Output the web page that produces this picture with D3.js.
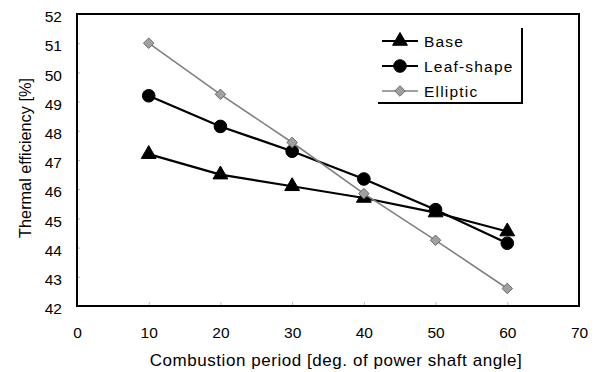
<!DOCTYPE html>
<html>
<head>
<meta charset="utf-8">
<script src="https://cdn.jsdelivr.net/npm/d3@7"></script>
<style>
  html, body { margin: 0; padding: 0; background: #fff; }
  svg { display: block; font-family: "Liberation Sans", Arial, sans-serif; }
</style>
</head>
<body>
<svg id="chart" width="597" height="372"></svg>
<script>
// Combustion period (deg. of power shaft angle)
const periods = [10, 20, 30, 40, 50, 60];
// Thermal efficiency [%] for each rotor recess shape
const baseEff = [47.2, 46.5, 46.1, 45.7, 45.2, 44.55];
const leafEff = [49.2, 48.15, 47.3, 46.35, 45.3, 44.15];
const ellipticEff = [51.0, 49.25, 47.6, 45.85, 44.25, 42.6];
const xTicks = [0, 10, 20, 30, 40, 50, 60, 70];
const yTicks = [42, 43, 44, 45, 46, 47, 48, 49, 50, 51, 52];
const seriesNames = ["Base", "Leaf-shape", "Elliptic"];

const svg = d3.select("#chart");
const m = { left: 77, right: 579, top: 14, bottom: 306 };

const x = d3.scaleLinear().domain([0, 70]).range([m.left, m.right]);
const y = d3.scaleLinear().domain([42, 52]).range([m.bottom, m.top]);

// faint tick marks inside the frame
const xAxis = d3.axisBottom(x).tickValues(xTicks).tickSize(-4).tickFormat(d => d).tickPadding(21);
const yAxis = d3.axisLeft(y).tickValues(yTicks).tickSize(-3).tickFormat(d => d).tickPadding(15);

const gx = svg.append("g").attr("transform", `translate(0,${m.bottom})`).call(xAxis);
const gy = svg.append("g").attr("transform", `translate(${m.left},0)`).call(yAxis);
[gx, gy].forEach(g => {
  g.select(".domain").remove();
  g.selectAll(".tick line").attr("stroke", "#bbb").attr("stroke-width", 1);
  g.selectAll(".tick text").attr("fill", "#000").style("font-size", "15.5px");
});
gy.selectAll(".tick text").attr("dy", "0.5em");

// plot frame
svg.append("rect")
  .attr("x", m.left).attr("y", m.top)
  .attr("width", m.right - m.left).attr("height", m.bottom - m.top)
  .attr("fill", "none").attr("stroke", "#000").attr("stroke-width", 2);

// axis titles
svg.append("text")
  .attr("x", 336).attr("y", 366)
  .attr("text-anchor", "middle").style("font-size", "17px")
  .style("letter-spacing", "0.55px")
  .text("Combustion period [deg. of power shaft angle]");
svg.append("text")
  .attr("transform", `translate(31,158) rotate(-90)`)
  .attr("text-anchor", "middle").style("font-size", "16.3px")
  .text("Thermal efficiency [%]");

const series = [
  { name: seriesNames[0], values: baseEff, color: "#000", width: 2.2, symbol: d3.symbolTriangle, size: 95, fill: "#000", stroke: "#000" },
  { name: seriesNames[1], values: leafEff, color: "#000", width: 2.2, symbol: d3.symbolCircle, size: 125, fill: "#000", stroke: "#000" },
  { name: seriesNames[2], values: ellipticEff, color: "#808080", width: 1.6, symbol: d3.symbolDiamond2, size: 70, fill: "#a0a0a0", stroke: "#6a6a6a" }
];

const line = d3.line().x((d, i) => x(periods[i])).y(d => y(d));

series.forEach(s => {
  svg.append("path").datum(s.values)
    .attr("d", line).attr("fill", "none")
    .attr("stroke", s.color).attr("stroke-width", s.width);
  svg.append("g").selectAll("path").data(s.values).join("path")
    .attr("transform", (d, i) => `translate(${x(periods[i])},${y(d)})`)
    .attr("d", d3.symbol().type(s.symbol).size(s.size))
    .attr("fill", s.fill)
    .attr("stroke", s.stroke)
    .attr("stroke-width", 1);
});

// legend with drop shadow on right and bottom
const lg = svg.append("g");
const lx = 376, ly = 26, lw = 145, lh = 76;
lg.append("rect").attr("x", lx + 2).attr("y", ly + 2).attr("width", lw).attr("height", lh).attr("fill", "#000");
lg.append("rect").attr("x", lx).attr("y", ly).attr("width", lw).attr("height", lh).attr("fill", "#fff");
series.forEach((s, i) => {
  const cy = 41 + i * 25;
  lg.append("line").attr("x1", 382).attr("x2", 418).attr("y1", cy).attr("y2", cy)
    .attr("stroke", s.color).attr("stroke-width", s.width);
  lg.append("path").attr("transform", `translate(400,${cy})`)
    .attr("d", d3.symbol().type(s.symbol).size(s.size))
    .attr("fill", s.fill).attr("stroke", s.stroke).attr("stroke-width", 1);
  lg.append("text").attr("x", 424).attr("y", cy + 5.5)
    .style("font-size", "15.5px").style("letter-spacing", "1.2px").text(s.name);
});
</script>
</body>
</html>
